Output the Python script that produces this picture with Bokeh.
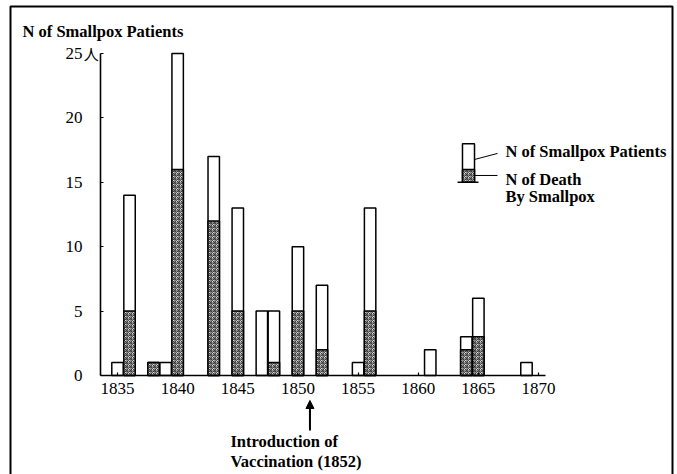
from bokeh.plotting import figure
from bokeh.models import Range1d, Label, Arrow, NormalHead, BoxAnnotation, FixedTicker, ColumnDataSource
from bokeh.embed import file_html
from bokeh.resources import INLINE

# ---- data ----
years    = [1835, 1836, 1838, 1839, 1840, 1843, 1845, 1847, 1848, 1850, 1852, 1855, 1856, 1861, 1864, 1865, 1869]
patients = [1, 14, 1, 1, 25, 17, 13, 5, 5, 10, 7, 1, 13, 2, 3, 6, 1]
deaths   = [0, 5, 1, 0, 16, 12, 5, 0, 1, 5, 2, 0, 5, 0, 2, 3, 0]
x_ticks  = [1835, 1840, 1845, 1850, 1855, 1860, 1865, 1870]
y_ticks  = [0, 5, 10, 15, 20, 25]
vacc_year = 1851

SERIF = "Liberation Serif"
BOLD_SIZE = "16.5px"
HATCH = dict(fill_color="#dcdcdc", hatch_pattern="criss_cross", hatch_color="#3a3a3a",
             hatch_scale=4, hatch_weight=1)

W, H = 677, 474
X0, X1 = 1825.273, 1881.555
Y0, Y1 = -7.686, 29.115
p = figure(width=W, height=H, output_backend="svg", toolbar_location=None,
           x_range=Range1d(X0, X1), y_range=Range1d(Y0, Y1),
           min_border=0, min_border_left=0, min_border_right=0,
           min_border_top=0, min_border_bottom=0)
p.grid.visible = False
p.outline_line_color = None
p.background_fill_color = "white"
p.border_fill_color = "white"

# axes (placed at the data origin inside the frame)
AX_LEFT = 1833.587
xa = p.xaxis[0]
xa.fixed_location = 0
xa.ticker = FixedTicker(ticks=x_ticks)
xa.bounds = (AX_LEFT, 1870.58)
ya = p.yaxis[0]
ya.fixed_location = AX_LEFT
ya.ticker = FixedTicker(ticks=y_ticks)
ya.bounds = (0, 25)
for ax in (xa, ya):
    ax.axis_line_width = 1.6
    ax.axis_line_color = "black"
    ax.major_tick_in = 3
    ax.major_tick_out = 0
    ax.minor_tick_in = 0
    ax.minor_tick_out = 0
    ax.major_tick_line_color = "black"
    ax.major_tick_line_width = 1.2
    ax.major_label_text_font = SERIF
    ax.major_label_text_font_size = "17px"
    ax.major_label_text_color = "black"
xa.major_label_standoff = 7
ya.major_label_standoff = 18

src = ColumnDataSource(dict(x=years, top=patients))
p.vbar(x="x", top="top", bottom=0, width=0.95, source=src,
       fill_color="white", line_color="black", line_width=1.5)
dx = [y for y, d in zip(years, deaths) if d > 0]
dv = [d for d in deaths if d > 0]
p.vbar(x=dx, top=dv, bottom=0, width=0.95, line_color="black", line_width=1.5, **HATCH)

# y unit marker after "25"
p.add_layout(Label(x=1832.2, y=25, text="人",
                   text_font="Noto Sans CJK JP", text_font_size="15px",
                   text_baseline="middle", text_align="left", text_color="black"))

# title
p.add_layout(Label(x=1827.1, y=26.71,
                   text="N of Smallpox Patients", text_font=SERIF, text_font_style="bold",
                   text_font_size=BOLD_SIZE, text_baseline="middle", text_align="left",
                   text_color="black"))

# legend (drawn like the original key)
p.quad(left=[1863.68], right=[1864.68], bottom=[15], top=[18],
       fill_color="white", line_color="black", line_width=1.5)
p.quad(left=[1863.68], right=[1864.68], bottom=[15], top=[16],
       line_color="black", line_width=1.5, **HATCH)
p.segment(x0=[1863.27], y0=[15], x1=[1865.01], y1=[15], line_color="black", line_width=1.6)
p.segment(x0=[1864.68, 1864.68], y0=[16.77, 15.53], x1=[1866.59, 1866.59], y1=[17.24, 15.53],
          line_color="black", line_width=1)
for txt, yy in [("N of Smallpox Patients", 17.39), ("N of Death", 15.22), ("By Smallpox", 13.9)]:
    p.text(x=[1867.25], y=[yy], text=[txt], text_font={"value": SERIF}, text_font_style="bold",
           text_font_size=BOLD_SIZE, text_baseline="middle", text_align="left", text_color="black")

# vaccination annotation
p.add_layout(Arrow(end=NormalHead(size=8, fill_color="black", line_color="black"),
                   x_start=vacc_year, y_start=-4.27, x_end=vacc_year, y_end=-1.94,
                   line_width=2, line_color="black"))
p.add_layout(Label(x=1844.39, y=-5.12, text="Introduction of", text_font=SERIF,
                   text_font_style="bold", text_font_size=BOLD_SIZE, text_baseline="middle",
                   text_color="black"))
p.add_layout(Label(x=1844.39, y=-6.68, text="Vaccination (1852)", text_font=SERIF,
                   text_font_style="bold", text_font_size=BOLD_SIZE, text_baseline="middle",
                   text_color="black"))

# outer frame box (screen units from the frame's bottom-left)
p.add_layout(BoxAnnotation(left=10, right=672, bottom=-5, top=468,
                           left_units="screen", right_units="screen",
                           bottom_units="screen", top_units="screen",
                           fill_color=None, fill_alpha=0, line_color="black",
                           line_alpha=1, line_width=2))

open("out.html", "w").write(file_html(p, INLINE))
